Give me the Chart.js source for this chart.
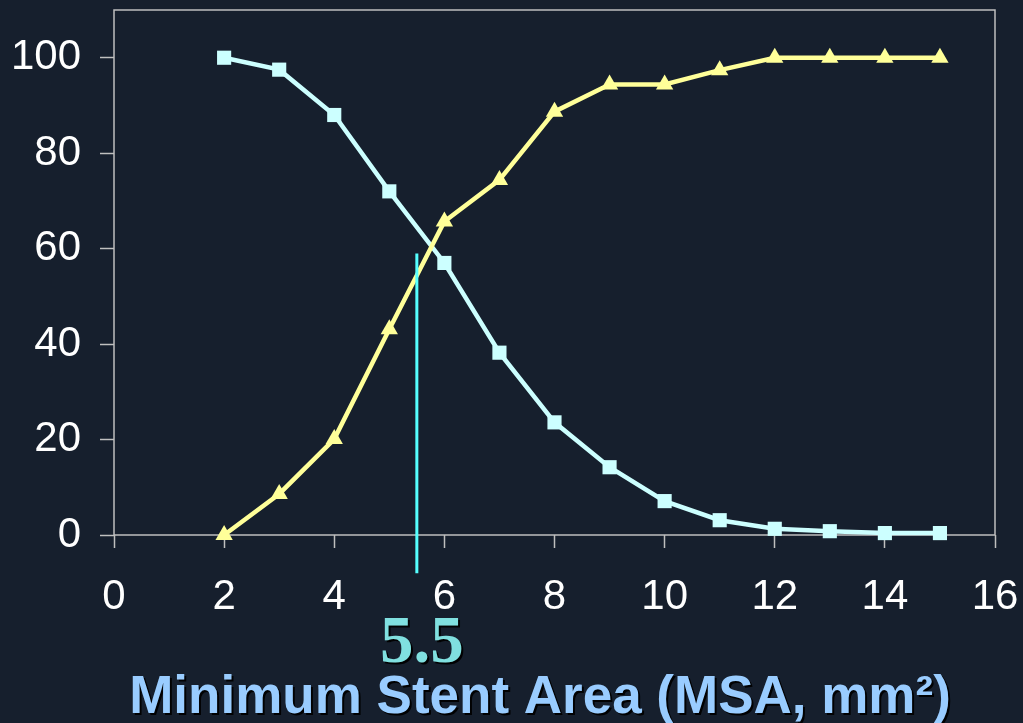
<!DOCTYPE html>
<html>
<head>
<meta charset="utf-8">
<script src="https://cdn.jsdelivr.net/npm/chart.js@4/dist/chart.umd.min.js"></script>
<style>
  html, body { margin: 0; padding: 0; background: #161f2d; }
  #wrap { width: 1023px; height: 723px; }
</style>
</head>
<body>
<div id="wrap"><canvas id="c" width="1023" height="723"></canvas></div>
<script>
// Minimum stent area (mm²) along the x axis
const msa = [2, 3, 4, 5, 6, 7, 8, 9, 10, 11, 12, 13, 14, 15];
// Curve drawn with square markers (falls with MSA)
const fallingCurve = [100, 97.5, 88, 72, 57, 38.2, 23.6, 14.2, 7.1, 3.1, 1.3, 0.8, 0.4, 0.4];
// Curve drawn with triangle markers (rises with MSA)
const risingCurve = [0, 8.6, 20.1, 43.1, 65.7, 74.4, 88.7, 94.4, 94.4, 97.4, 100, 100, 100, 100];
// Cut-off value and the level where the two curves cross
const cutoff = 5.5;
const crossLevel = 59;
const cutoffFoot = -8;
// Axis ticks
const xTicks = [0, 2, 4, 6, 8, 10, 12, 14, 16];
const yTicks = [0, 20, 40, 60, 80, 100];
const axisTitle = 'Minimum Stent Area (MSA, mm²)';

const pts = (xs, ys) => xs.map((x, i) => ({ x: x, y: ys[i] }));
const tickFont = { family: '"Liberation Sans", Arial, sans-serif', size: 42 };

const decor = {
  id: 'decor',
  beforeDraw(chart) {
    const { ctx, width, height } = chart;
    ctx.save();
    ctx.fillStyle = '#161f2d';
    ctx.fillRect(0, 0, width, height);
    ctx.restore();
  },
  beforeDatasetsDraw(chart) {
    const { ctx, chartArea: a } = chart;
    ctx.save();
    ctx.strokeStyle = '#bfbfbf';
    ctx.lineWidth = 1.5;
    ctx.strokeRect(a.left, a.top, a.right - a.left, a.bottom - a.top);
    ctx.restore();
  },
  afterDraw(chart) {
    const { ctx } = chart;
    const xs = chart.scales.x;
    ctx.save();
    ctx.shadowColor = 'rgba(0,0,0,0.95)';
    ctx.shadowOffsetX = 2;
    ctx.shadowOffsetY = 2;
    ctx.shadowBlur = 0;
    ctx.textAlign = 'center';
    ctx.textBaseline = 'alphabetic';
    // cut-off label
    ctx.fillStyle = '#80e0e0';
    ctx.font = 'bold 67px "Liberation Serif", "Times New Roman", serif';
    ctx.fillText(String(cutoff), xs.getPixelForValue(cutoff) + 5, 662);
    // axis title
    ctx.fillStyle = '#99ccff';
    ctx.font = 'bold 53px "Liberation Sans", Arial, sans-serif';
    ctx.fillText(axisTitle, 540, 713);
    ctx.restore();
  }
};

new Chart(document.getElementById('c'), {
  type: 'scatter',
  data: {
    datasets: [
      {
        label: 'falling',
        data: pts(msa, fallingCurve),
        showLine: true,
        borderColor: '#ccffff',
        backgroundColor: '#ccffff',
        borderWidth: 4.5,
        pointStyle: 'rect',
        pointRadius: 10,
        pointBorderWidth: 0,
        pointHoverRadius: 10,
        clip: false,
        order: 2
      },
      {
        label: 'rising',
        data: pts(msa, risingCurve),
        showLine: true,
        borderColor: '#ffff99',
        backgroundColor: '#ffff99',
        borderWidth: 4.5,
        pointStyle: 'triangle',
        pointRadius: 10,
        pointBorderWidth: 0,
        pointHoverRadius: 10,
        clip: false,
        order: 1
      },
      {
        label: 'cutoff',
        data: [{ x: cutoff, y: crossLevel }, { x: cutoff, y: cutoffFoot }],
        showLine: true,
        borderColor: '#55ffff',
        borderWidth: 3,
        pointRadius: 0,
        pointHoverRadius: 0,
        clip: false,
        order: 0
      }
    ]
  },
  options: {
    responsive: false,
    animation: false,
    events: [],
    layout: { padding: { top: 9, right: 28, left: 0, bottom: 0 } },
    plugins: {
      legend: { display: false },
      tooltip: { enabled: false },
      title: { display: false }
    },
    scales: {
      x: {
        type: 'linear',
        min: 0,
        max: 16,
        afterBuildTicks(s) { s.ticks = xTicks.map(v => ({ value: v })); },
        afterFit(s) {
          s.height = 188;
          s.paddingLeft = 0; s.paddingRight = 0;
        },
        border: { display: false },
        grid: {
          drawOnChartArea: false,
          drawTicks: true,
          tickLength: 13,
          tickWidth: 1.5,
          tickColor: '#bfbfbf'
        },
        ticks: {
          color: '#ffffff',
          padding: 24,
          maxRotation: 0,
          font: tickFont
        }
      },
      y: {
        type: 'linear',
        min: 0,
        max: 110,
        afterBuildTicks(s) { s.ticks = yTicks.map(v => ({ value: v })); },
        afterFit(s) {
          s.width = 114;
          s.paddingTop = 0; s.paddingBottom = 0;
        },
        border: { display: false },
        grid: {
          drawOnChartArea: false,
          drawTicks: true,
          tickLength: 14,
          tickWidth: 1.5,
          tickColor: '#bfbfbf'
        },
        ticks: {
          color: '#ffffff',
          padding: 19,
          font: tickFont
        }
      }
    }
  },
  plugins: [decor]
});
</script>
</body>
</html>
